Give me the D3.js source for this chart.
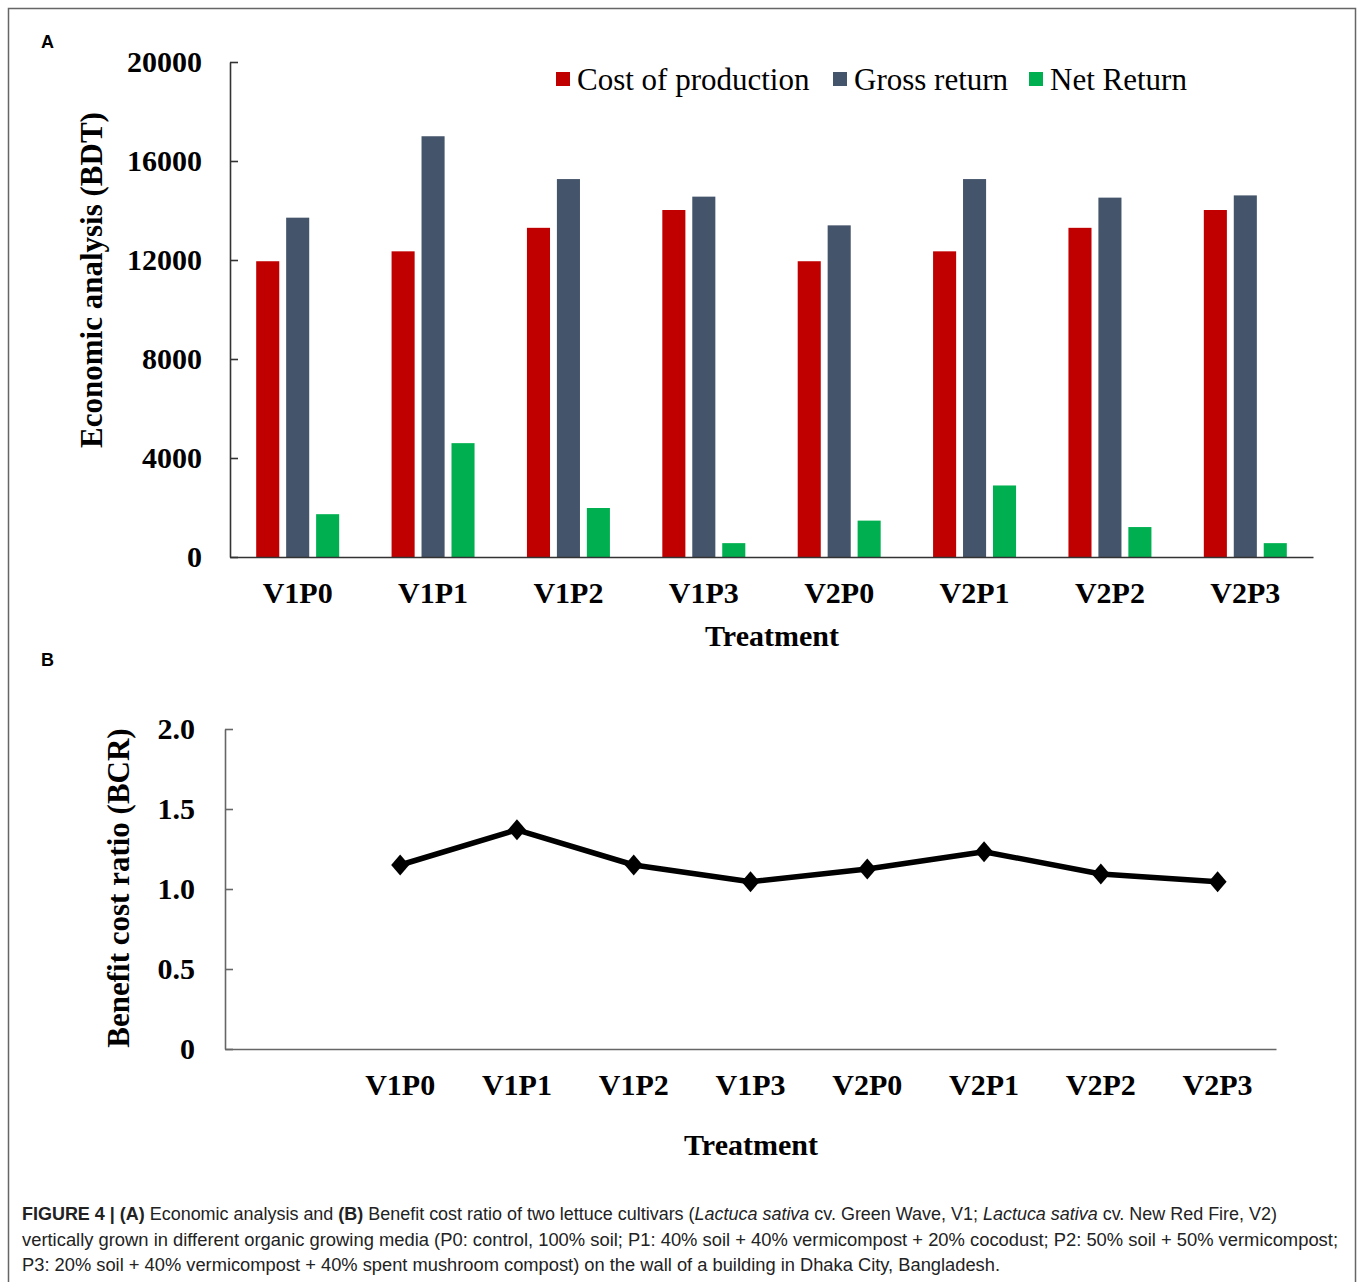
<!DOCTYPE html>
<html>
<head>
<meta charset="utf-8">
<script src="https://cdn.jsdelivr.net/npm/d3@7"></script>
<style>
  body { margin: 0; background: #fff; }
  svg { display: block; }
</style>
</head>
<body>
<svg id="fig" width="1360" height="1282"></svg>
<script>
// Treatments and series
const treatments = ['V1P0', 'V1P1', 'V1P2', 'V1P3', 'V2P0', 'V2P1', 'V2P2', 'V2P3'];
const seriesNames = ['Cost of production', 'Gross return', 'Net Return'];
const seriesColors = ['#c00000', '#44546a', '#00b050'];

// Panel A values (BDT)
const costOfProduction = [11950, 12350, 13300, 14020, 11950, 12350, 13300, 14020];
const grossReturn = [13710, 17000, 15270, 14560, 13400, 15270, 14520, 14610];
const netReturn = [1730, 4600, 1980, 560, 1470, 2890, 1210, 560];

// Panel B values
const bcr = [1.15, 1.37, 1.15, 1.045, 1.125, 1.233, 1.094, 1.046];

const ticksA = [0, 4000, 8000, 12000, 16000, 20000];
const ticksB = [0, 0.5, 1.0, 1.5, 2.0];

const serif = '"Liberation Serif", "Times New Roman", serif';
const svg = d3.select('#fig');

// Outer frame
svg.append('rect')
  .attr('x', 8.5).attr('y', 8.5)
  .attr('width', 1347).attr('height', 1300)
  .attr('fill', 'none')
  .attr('stroke', '#666')
  .attr('stroke-width', 1.5);

// Panel letters
svg.append('text').attr('x', 41).attr('y', 48).text('A')
  .attr('font-family', '"Liberation Sans", Arial, sans-serif')
  .attr('font-weight', 'bold').attr('font-size', 18);
svg.append('text').attr('x', 41).attr('y', 666).text('B')
  .attr('font-family', '"Liberation Sans", Arial, sans-serif')
  .attr('font-weight', 'bold').attr('font-size', 18);

// ---------- Panel A: grouped bars ----------
const yA = d3.scaleLinear().domain([0, 20000]).range([557, 62]);
const x0 = d3.scaleBand().domain(treatments).range([230, 1313])
  .paddingInner(0.387).paddingOuter(0.1935);
const x1 = d3.scaleBand().domain(seriesNames).range([0, x0.bandwidth()])
  .paddingInner(0.23);

const rows = treatments.map((t, i) => ({
  treatment: t,
  values: [costOfProduction[i], grossReturn[i], netReturn[i]],
}));

const groups = svg.append('g')
  .selectAll('g')
  .data(rows)
  .join('g')
  .attr('transform', (d) => `translate(${x0(d.treatment)},0)`);

groups.selectAll('rect')
  .data((d) => d.values.map((v, j) => ({ key: seriesNames[j], value: v, j })))
  .join('rect')
  .attr('x', (d) => x1(d.key))
  .attr('y', (d) => yA(d.value))
  .attr('width', x1.bandwidth())
  .attr('height', (d) => yA(0) - yA(d.value))
  .attr('fill', (d) => seriesColors[d.j]);

const axisA = svg.append('g')
  .attr('transform', 'translate(230,0)')
  .call(d3.axisLeft(yA).tickValues(ticksA).tickFormat(d3.format('d'))
    .tickSize(-8).tickSizeOuter(0).tickPadding(28));
axisA.selectAll('text')
  .attr('font-family', serif).attr('font-weight', 'bold')
  .attr('font-size', 30).attr('fill', '#000');

const xAxisA = svg.append('g')
  .attr('transform', 'translate(0,557)')
  .call(d3.axisBottom(x0).tickSize(0).tickSizeOuter(0).tickPadding(0));
xAxisA.selectAll('text')
  .attr('dy', null).attr('y', 46)
  .attr('font-family', serif).attr('font-weight', 'bold')
  .attr('font-size', 30).attr('fill', '#000');

[axisA, xAxisA].forEach((a) => {
  a.select('.domain').attr('stroke', '#333').attr('stroke-width', 1.6);
  a.selectAll('.tick line').attr('stroke', '#333').attr('stroke-width', 1.6);
});

svg.append('text')
  .attr('x', 772).attr('y', 646)
  .attr('text-anchor', 'middle')
  .attr('font-family', serif).attr('font-weight', 'bold').attr('font-size', 30)
  .text('Treatment');

svg.append('text')
  .attr('transform', 'translate(102,280) rotate(-90)')
  .attr('text-anchor', 'middle')
  .attr('font-family', serif).attr('font-weight', 'bold').attr('font-size', 31)
  .text('Economic analysis (BDT)');

// Legend
const legendX = [556, 833, 1029];
const legend = svg.append('g')
  .selectAll('g')
  .data(seriesNames)
  .join('g')
  .attr('transform', (d, i) => `translate(${legendX[i]},72)`);
legend.append('rect')
  .attr('width', 14).attr('height', 14)
  .attr('fill', (d, i) => seriesColors[i]);
legend.append('text')
  .attr('x', 21).attr('y', 18)
  .attr('font-family', serif).attr('font-size', 31)
  .text((d) => d);

// ---------- Panel B: line ----------
const yB = d3.scaleLinear().domain([0, 2]).range([1049, 729]);
const xB = d3.scaleBand().domain([' ', ...treatments]).range([225, 1276]);
const cx = (t) => xB(t) + xB.bandwidth() / 2;

const axisB = svg.append('g')
  .attr('transform', 'translate(225,0)')
  .call(d3.axisLeft(yB).tickValues(ticksB).tickSize(-8).tickSizeOuter(0).tickPadding(30)
    .tickFormat((d) => (d === 0 ? '0' : d3.format('.1f')(d))));
axisB.selectAll('text')
  .attr('font-family', serif).attr('font-weight', 'bold')
  .attr('font-size', 30).attr('fill', '#000');

const xAxisB = svg.append('g')
  .attr('transform', 'translate(0,1049)')
  .call(d3.axisBottom(xB).tickSize(0).tickSizeOuter(0).tickPadding(0));
xAxisB.selectAll('text')
  .attr('dy', null).attr('y', 46)
  .attr('font-family', serif).attr('font-weight', 'bold')
  .attr('font-size', 30).attr('fill', '#000');

[axisB, xAxisB].forEach((a) => {
  a.select('.domain').attr('stroke', '#666').attr('stroke-width', 1.6);
  a.selectAll('.tick line').attr('stroke', '#666').attr('stroke-width', 1.6);
});

const line = d3.line()
  .x((d, i) => cx(treatments[i]))
  .y((d) => yB(d));

svg.append('path')
  .datum(bcr)
  .attr('d', line)
  .attr('fill', 'none')
  .attr('stroke', '#000')
  .attr('stroke-width', 5.5)
  .attr('stroke-linejoin', 'round');

svg.append('g')
  .selectAll('path')
  .data(bcr)
  .join('path')
  .attr('transform', (d, i) => `translate(${cx(treatments[i])},${yB(d)})`)
  .attr('d', 'M0,-10.5L9,0L0,10.5L-9,0Z')
  .attr('fill', '#000');

svg.append('text')
  .attr('x', 751).attr('y', 1155)
  .attr('text-anchor', 'middle')
  .attr('font-family', serif).attr('font-weight', 'bold').attr('font-size', 30)
  .text('Treatment');

svg.append('text')
  .attr('transform', 'translate(129,888) rotate(-90)')
  .attr('text-anchor', 'middle')
  .attr('font-family', serif).attr('font-weight', 'bold').attr('font-size', 31)
  .text('Benefit cost ratio (BCR)');

// ---------- Caption ----------
const captionLines = [
  { width: 1255, parts: [
    ['FIGURE 4 | (A)', 'b'], [' Economic analysis and ', ''], ['(B)', 'b'],
    [' Benefit cost ratio of two lettuce cultivars (', ''], ['Lactuca sativa', 'i'],
    [' cv. Green Wave, V1; ', ''], ['Lactuca sativa', 'i'], [' cv. New Red Fire, V2)', ''],
  ] },
  { width: 1316, parts: [
    ['vertically grown in different organic growing media (P0: control, 100% soil; P1: 40% soil + 40% vermicompost + 20% cocodust; P2: 50% soil + 50% vermicompost;', ''],
  ] },
  { width: 978, parts: [
    ['P3: 20% soil + 40% vermicompost + 40% spent mushroom compost) on the wall of a building in Dhaka City, Bangladesh.', ''],
  ] },
];

captionLines.forEach((ln, i) => {
  const t = svg.append('text')
    .attr('x', 22).attr('y', 1220 + i * 25.5)
    .attr('font-family', '"Liberation Sans Narrow", "Arial Narrow", "Liberation Sans", Arial, sans-serif')
    .attr('font-size', 17.5)
    .attr('fill', '#222')
    .attr('textLength', ln.width)
    .attr('lengthAdjust', 'spacingAndGlyphs');
  ln.parts.forEach(([s, st]) => {
    t.append('tspan').text(s)
      .attr('font-weight', st === 'b' ? 'bold' : null)
      .attr('font-style', st === 'i' ? 'italic' : null);
  });
});
</script>
</body>
</html>
